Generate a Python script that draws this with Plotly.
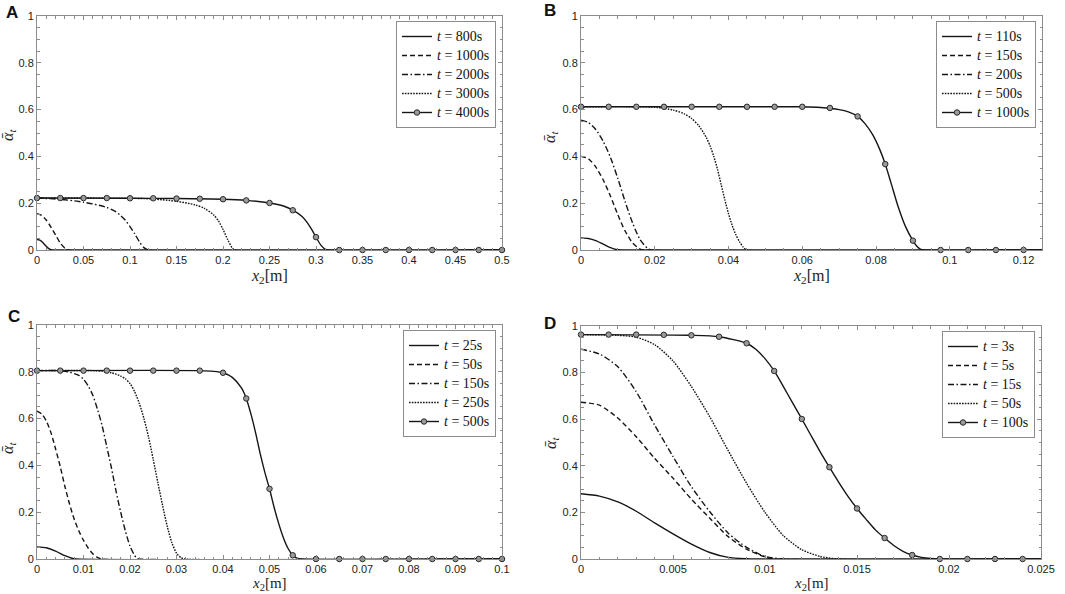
import plotly.graph_objects as go

# ---------------- Panel A ----------------
a800_x = [0, 0.003, 0.006, 0.009, 0.012, 0.015, 0.018, 0.5]
a800_y = [0.045, 0.042, 0.033, 0.02, 0.008, 0.001, 0, 0]
a1000_x = [0, 0.005, 0.01, 0.015, 0.02, 0.025, 0.03, 0.033, 0.5]
a1000_y = [0.155, 0.148, 0.128, 0.098, 0.064, 0.03, 0.008, 0, 0]
a2000_x = [0, 0.02, 0.04, 0.05, 0.06, 0.075, 0.085, 0.09, 0.095, 0.1, 0.105, 0.11, 0.115, 0.12, 0.5]
a2000_y = [0.222, 0.218, 0.21, 0.204, 0.197, 0.182, 0.163, 0.147, 0.127, 0.1, 0.07, 0.036, 0.01, 0, 0]
a3000_x = [0, 0.05, 0.1, 0.125, 0.15, 0.17, 0.18, 0.19, 0.195, 0.2, 0.205, 0.21, 0.213, 0.5]
a3000_y = [0.222, 0.222, 0.221, 0.218, 0.208, 0.193, 0.178, 0.15, 0.125, 0.088, 0.045, 0.008, 0, 0]
a4000_x = [0, 0.1, 0.15, 0.2, 0.225, 0.25, 0.265, 0.275, 0.285, 0.29, 0.295, 0.3, 0.305, 0.31, 0.313, 0.5]
a4000_y = [0.222, 0.221, 0.22, 0.217, 0.212, 0.201, 0.188, 0.17, 0.143, 0.12, 0.09, 0.055, 0.022, 0.003, 0, 0]
a4000_mx = [0, 0.025, 0.05, 0.075, 0.1, 0.125, 0.15, 0.175, 0.2, 0.225, 0.25, 0.275, 0.3,
            0.325, 0.35, 0.375, 0.4, 0.425, 0.45, 0.475, 0.5]
a4000_my = [0.222, 0.222, 0.222, 0.222, 0.221, 0.221, 0.22, 0.219, 0.217, 0.212, 0.201, 0.17, 0.055,
            0, 0, 0, 0, 0, 0, 0, 0]
a_labels = ["800s", "1000s", "2000s", "3000s", "4000s"]

# ---------------- Panel B ----------------
b110_x = [0, 0.002, 0.004, 0.006, 0.008, 0.0095, 0.011, 0.125]
b110_y = [0.052, 0.049, 0.04, 0.025, 0.01, 0.002, 0, 0]
b150_x = [0, 0.002, 0.004, 0.006, 0.008, 0.01, 0.012, 0.014, 0.016, 0.017, 0.125]
b150_y = [0.4, 0.39, 0.355, 0.3, 0.23, 0.15, 0.08, 0.03, 0.004, 0, 0]
b200_x = [0, 0.002, 0.004, 0.006, 0.008, 0.01, 0.012, 0.014, 0.016, 0.018, 0.019, 0.125]
b200_y = [0.555, 0.545, 0.515, 0.465, 0.395, 0.305, 0.205, 0.115, 0.045, 0.008, 0, 0]
b500_x = [0, 0.02, 0.025, 0.028, 0.03, 0.032, 0.034, 0.035, 0.036, 0.037, 0.038, 0.039, 0.04,
          0.041, 0.042, 0.043, 0.044, 0.045, 0.125]
b500_y = [0.612, 0.61, 0.598, 0.582, 0.562, 0.53, 0.48, 0.445, 0.4, 0.345, 0.28, 0.215, 0.155,
          0.105, 0.065, 0.035, 0.012, 0, 0]
b1000_x = [0, 0.06, 0.065, 0.07, 0.0725, 0.075, 0.077, 0.079, 0.081, 0.0825, 0.084, 0.086, 0.088,
           0.09, 0.091, 0.092, 0.093, 0.125]
b1000_y = [0.612, 0.612, 0.609, 0.6, 0.59, 0.571, 0.54, 0.495, 0.43, 0.367, 0.29, 0.185, 0.1,
           0.04, 0.017, 0.004, 0, 0]
b1000_mx = [0, 0.0075, 0.015, 0.0225, 0.03, 0.0375, 0.045, 0.0525, 0.06, 0.0675, 0.075, 0.0825,
            0.09, 0.0975, 0.105, 0.1125, 0.12]
b1000_my = [0.612, 0.612, 0.612, 0.612, 0.612, 0.612, 0.612, 0.612, 0.612, 0.607, 0.571, 0.367,
            0.04, 0, 0, 0, 0]
b_labels = ["110s", "150s", "200s", "500s", "1000s"]

# ---------------- Panel C ----------------
c25_x = [0, 0.002, 0.004, 0.006, 0.0075, 0.0085, 0.1]
c25_y = [0.052, 0.048, 0.034, 0.014, 0.003, 0, 0]
c50_x = [0, 0.001, 0.002, 0.003, 0.004, 0.005, 0.006, 0.007, 0.008, 0.009, 0.01, 0.011, 0.012,
         0.013, 0.014, 0.1]
c50_y = [0.632, 0.62, 0.59, 0.54, 0.47, 0.395, 0.31, 0.235, 0.17, 0.12, 0.08, 0.047, 0.022,
         0.007, 0, 0]
c150_x = [0, 0.005, 0.007, 0.009, 0.01, 0.011, 0.012, 0.013, 0.014, 0.015, 0.016, 0.017, 0.018,
          0.019, 0.02, 0.021, 0.0215, 0.022, 0.1]
c150_y = [0.805, 0.805, 0.798, 0.785, 0.768, 0.74, 0.7, 0.64, 0.57, 0.48, 0.39, 0.29, 0.2,
          0.12, 0.055, 0.015, 0.003, 0, 0]
c250_x = [0, 0.012, 0.014, 0.016, 0.018, 0.019, 0.02, 0.021, 0.022, 0.023, 0.024, 0.025, 0.026,
          0.027, 0.028, 0.029, 0.03, 0.031, 0.032, 0.1]
c250_y = [0.805, 0.805, 0.802, 0.796, 0.782, 0.77, 0.75, 0.715, 0.665, 0.6, 0.52, 0.425, 0.325,
          0.23, 0.14, 0.07, 0.025, 0.005, 0, 0]
c500_x = [0, 0.035, 0.038, 0.04, 0.042, 0.044, 0.045, 0.046, 0.047, 0.048, 0.049, 0.05, 0.051,
          0.052, 0.053, 0.054, 0.055, 0.056, 0.057, 0.1]
c500_y = [0.805, 0.805, 0.802, 0.796, 0.776, 0.73, 0.686, 0.62, 0.54, 0.45, 0.37, 0.3, 0.22,
          0.15, 0.09, 0.045, 0.016, 0.003, 0, 0]
c500_mx = [0, 0.005, 0.01, 0.015, 0.02, 0.025, 0.03, 0.035, 0.04, 0.045, 0.05, 0.055, 0.06,
           0.065, 0.07, 0.075, 0.08, 0.085, 0.09, 0.095, 0.1]
c500_my = [0.805, 0.805, 0.805, 0.805, 0.805, 0.805, 0.805, 0.805, 0.796, 0.686, 0.3, 0.016, 0,
           0, 0, 0, 0, 0, 0, 0, 0]
c_labels = ["25s", "50s", "150s", "250s", "500s"]

# ---------------- Panel D ----------------
d3_x = [0, 0.001, 0.002, 0.003, 0.004, 0.005, 0.006, 0.007, 0.008, 0.009, 0.0095, 0.025]
d3_y = [0.28, 0.27, 0.245, 0.205, 0.155, 0.108, 0.064, 0.028, 0.007, 0.001, 0, 0]
d5_x = [0, 0.001, 0.002, 0.003, 0.004, 0.005, 0.006, 0.007, 0.008, 0.009, 0.01, 0.0105, 0.025]
d5_y = [0.673, 0.66, 0.605, 0.525, 0.432, 0.347, 0.257, 0.175, 0.096, 0.042, 0.009, 0, 0]
d15_x = [0, 0.001, 0.002, 0.003, 0.004, 0.005, 0.006, 0.007, 0.008, 0.009, 0.01, 0.011, 0.025]
d15_y = [0.9, 0.88, 0.825, 0.718, 0.575, 0.44, 0.31, 0.203, 0.111, 0.05, 0.011, 0, 0]
d50_x = [0, 0.002, 0.003, 0.004, 0.005, 0.006, 0.007, 0.008, 0.009, 0.01, 0.011, 0.012, 0.013,
         0.014, 0.025]
d50_y = [0.963, 0.96, 0.952, 0.92, 0.85, 0.74, 0.61, 0.465, 0.325, 0.2, 0.1, 0.04, 0.011, 0, 0]
d100_x = [0, 0.006, 0.0075, 0.009, 0.0095, 0.01, 0.0105, 0.011, 0.0115, 0.012, 0.0125, 0.013,
          0.0135, 0.014, 0.0145, 0.015, 0.0155, 0.016, 0.0165, 0.017, 0.0175, 0.018, 0.0185,
          0.019, 0.0195, 0.025]
d100_y = [0.963, 0.96, 0.954, 0.926, 0.9, 0.86, 0.807, 0.74, 0.67, 0.601, 0.53, 0.46, 0.394,
          0.33, 0.27, 0.217, 0.17, 0.125, 0.09, 0.058, 0.033, 0.017, 0.007, 0.002, 0, 0]
d100_mx = [0, 0.0015, 0.003, 0.0045, 0.006, 0.0075, 0.009, 0.0105, 0.012, 0.0135, 0.015, 0.0165,
           0.018, 0.0195, 0.021, 0.0225, 0.024]
d100_my = [0.963, 0.963, 0.963, 0.962, 0.96, 0.954, 0.926, 0.807, 0.601, 0.394, 0.217, 0.09,
           0.017, 0, 0, 0, 0]
d_labels = ["3s", "5s", "15s", "50s", "100s"]

# axis settings per panel
x_ranges = [[0, 0.5], [0, 0.125], [0, 0.1], [0, 0.025]]
x_dticks = [0.05, 0.02, 0.01, 0.005]
x_minor = [0.01, 0.005, 0.002, 0.001]
panel_letters = ["A", "B", "C", "D"]
x_title = "<i>x</i><sub>2</sub>[m]"
y_title = "<i>ᾱ</i><sub><i>t</i></sub>"

# ---------------- styling ----------------
W, H = 1065, 594
LINE_COL = "#151515"
FRAME_COL = "#8c8c8c"
SERIF = "Liberation Serif"
SANS = "Liberation Sans"
DASHES = ["solid", "5px,3px", "6px,2.5px,1.5px,2.5px", "1.6px,1.2px", "solid"]

# plot areas in pixels (left, right, top, bottom)
boxes = [(37, 502, 16, 250), (581, 1042, 16, 250), (37, 502, 325, 559), (581, 1041, 326, 559)]
# panel letter positions (left px, middle px)
letter_pos = [(4, 12), (542, 11), (6, 316), (542, 323)]
# axis title centres (px)
xt_pos = [(269, 277), (811, 277), (269, 584), (811, 584)]
yt_pos = [(8, 135), (550, 137), (8, 448), (551, 443)]
xt_size = [16, 16, 15, 15]

panels = [
    ([(a800_x, a800_y), (a1000_x, a1000_y), (a2000_x, a2000_y), (a3000_x, a3000_y), (a4000_x, a4000_y)],
     (a4000_mx, a4000_my), a_labels),
    ([(b110_x, b110_y), (b150_x, b150_y), (b200_x, b200_y), (b500_x, b500_y), (b1000_x, b1000_y)],
     (b1000_mx, b1000_my), b_labels),
    ([(c25_x, c25_y), (c50_x, c50_y), (c150_x, c150_y), (c250_x, c250_y), (c500_x, c500_y)],
     (c500_mx, c500_my), c_labels),
    ([(d3_x, d3_y), (d5_x, d5_y), (d15_x, d15_y), (d50_x, d50_y), (d100_x, d100_y)],
     (d100_mx, d100_my), d_labels),
]

fig = go.Figure()
layout = dict(
    width=W, height=H, margin=dict(l=0, r=0, t=0, b=0, autoexpand=False),
    paper_bgcolor="white", plot_bgcolor="white",
    font=dict(family=SANS, size=11, color="#222"),
    annotations=[],
)

MARKER = dict(symbol="circle", size=5.5, color="#9a9a9a", line=dict(color="#2a2a2a", width=1))


def legend_text(lbl):
    return f'<span style="font-size:14px"><i>t</i> = {lbl}</span>'


for i, (curves, marks, labels) in enumerate(panels):
    n = i + 1
    xa = "x" if n == 1 else f"x{n}"
    ya = "y" if n == 1 else f"y{n}"
    lg = "legend" if n == 1 else f"legend{n}"
    for j, (cx, cy) in enumerate(curves):
        name = legend_text(labels[j])
        last = (j == len(curves) - 1)
        fig.add_trace(go.Scatter(
            x=cx, y=cy, mode="lines", xaxis=xa, yaxis=ya,
            line=dict(color=LINE_COL, width=1.4, dash=DASHES[j], shape="spline", smoothing=0.7),
            name=name, legend=lg, showlegend=not last,
            hoverinfo="skip"))
        if last:
            fig.add_trace(go.Scatter(
                x=marks[0], y=marks[1], mode="markers", xaxis=xa, yaxis=ya,
                marker=MARKER, showlegend=False, cliponaxis=False,
                hoverinfo="skip"))
            fig.add_trace(go.Scatter(
                x=[None], y=[None], mode="lines+markers", xaxis=xa, yaxis=ya,
                line=dict(color=LINE_COL, width=1.4), marker=MARKER,
                name=name, legend=lg, showlegend=True))

    l, r, t, b = boxes[i]
    xdom = [l / W, r / W]
    ydom = [1 - b / H, 1 - t / H]
    axis_common = dict(
        showline=True, linecolor=FRAME_COL, linewidth=1, mirror="ticks",
        ticks="inside", ticklen=4, tickcolor=FRAME_COL, tickwidth=1,
        showgrid=False, zeroline=False, automargin=False,
        tickfont=dict(family=SANS, size=11, color="#222"),
    )
    layout["xaxis" if n == 1 else f"xaxis{n}"] = dict(
        axis_common, domain=xdom, anchor=ya, range=x_ranges[i], dtick=x_dticks[i], tick0=0,
        minor=dict(dtick=x_minor[i], ticks="inside", ticklen=2.5, tickcolor=FRAME_COL),
    )
    layout["yaxis" if n == 1 else f"yaxis{n}"] = dict(
        axis_common, domain=ydom, anchor=xa, range=[0, 1], dtick=0.2, tick0=0,
        minor=dict(dtick=0.05, ticks="inside", ticklen=2.5, tickcolor=FRAME_COL),
    )
    layout[lg] = dict(
        x=(r - 6) / W, xanchor="right", y=1 - (t + 5) / H, yanchor="top",
        bgcolor="white", bordercolor=FRAME_COL, borderwidth=1,
        font=dict(family=SERIF, size=11, color="#111"),
        tracegroupgap=0, itemwidth=30,
    )
    lx, ly = letter_pos[i]
    layout["annotations"].append(dict(
        text=f"<b>{panel_letters[i]}</b>", xref="paper", yref="paper",
        x=lx / W, y=1 - ly / H, xanchor="left", yanchor="middle",
        showarrow=False, font=dict(family=SANS, size=17, color="#111")))
    tx, ty = xt_pos[i]
    layout["annotations"].append(dict(
        text=x_title, xref="paper", yref="paper", x=tx / W, y=1 - ty / H,
        xanchor="center", yanchor="middle", showarrow=False,
        font=dict(family=SERIF, size=xt_size[i], color="#222")))
    tx, ty = yt_pos[i]
    layout["annotations"].append(dict(
        text=y_title, xref="paper", yref="paper", x=tx / W, y=1 - ty / H,
        xanchor="center", yanchor="middle", showarrow=False, textangle=-90,
        font=dict(family=SERIF, size=16, color="#222")))

fig.update_layout(**layout)
fig.write_html("out.html", config={"displayModeBar": False},
               post_script="document.body.style.margin='0px';")
